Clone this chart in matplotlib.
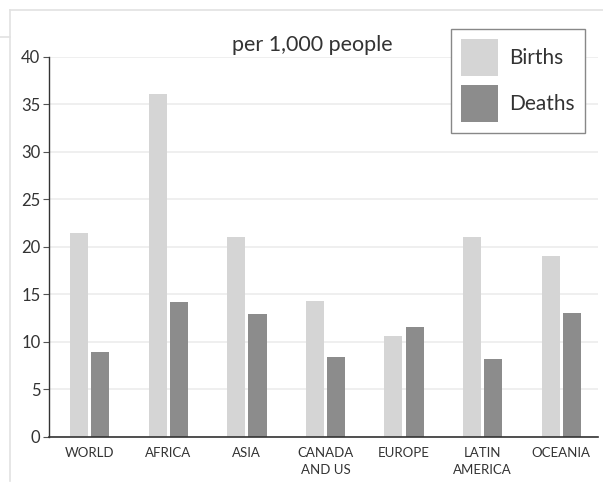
import matplotlib.pyplot as plt
import numpy as np
from matplotlib.lines import Line2D

# 各地区出生率与死亡率（每千人）
REGIONS = ["WORLD", "AFRICA", "ASIA", "CANADA\nAND US", "EUROPE", "LATIN\nAMERICA", "OCEANIA"]
BIRTHS = [21.5, 36.1, 21.0, 14.3, 10.6, 21.0, 19.0]
DEATHS = [8.9, 14.2, 12.9, 8.4, 11.6, 8.2, 13.0]
Y_TICKS = [0, 5, 10, 15, 20, 25, 30, 35, 40]

BIRTH_COLOR = "#d5d5d5"
DEATH_COLOR = "#8c8c8c"

plt.rcParams["font.family"] = ["Lato", "DejaVu Sans"]

fig = plt.figure(figsize=(6.03, 4.91), dpi=100)
ax = fig.add_axes([0.081, 0.110, 0.911, 0.774])

x = np.arange(len(REGIONS))
width = 0.23
ax.bar(x - 0.135, BIRTHS, width, color=BIRTH_COLOR, label="Births", zorder=2)
ax.bar(x + 0.135, DEATHS, width, color=DEATH_COLOR, label="Deaths", zorder=2)

ax.set_xlim(-0.52, 6.47)
ax.set_ylim(0, 40)
ax.set_yticks(Y_TICKS)
ax.set_xticks(x)
ax.set_xticklabels(REGIONS, fontsize=9.5, color="#333333", linespacing=1.5)
ax.tick_params(axis="x", length=0, pad=7)
ax.tick_params(axis="y", length=4, width=0.8, color="#555555", labelsize=12, labelcolor="#333333", pad=2)
ax.grid(axis="y", color="#ececec", linewidth=1.2, zorder=0)

for side in ["top", "right"]:
    ax.spines[side].set_visible(False)
ax.spines["left"].set_color("#333333")
ax.spines["bottom"].set_color("#333333")
ax.spines["left"].set_linewidth(1.0)
ax.spines["bottom"].set_linewidth(1.2)

fig.text(0.518, 0.908, "per 1,000 people", ha="center", va="center", fontsize=15.5, color="#333333")

ax.legend(
    loc="upper left",
    bbox_to_anchor=(0.748, 0.941),
    bbox_transform=fig.transFigure,
    fontsize=15,
    handlelength=1.77,
    handleheight=2.35,
    labelspacing=0.43,
    borderpad=0.5,
    handletextpad=0.5,
    borderaxespad=0,
    fancybox=False,
    framealpha=1,
    edgecolor="#888888",
    labelcolor="#333333",
)

# 外侧浅灰色边框
fig.add_artist(Line2D([0.017, 1.0], [0.979, 0.979], color="#e2e2e2", linewidth=1.2))
fig.add_artist(Line2D([0.017, 0.017], [0.979, 0.02], color="#e2e2e2", linewidth=1.2))
fig.add_artist(Line2D([0.0, 0.017], [0.925, 0.925], color="#e2e2e2", linewidth=1.2))

fig.savefig("out.png", dpi=100, facecolor="white")
